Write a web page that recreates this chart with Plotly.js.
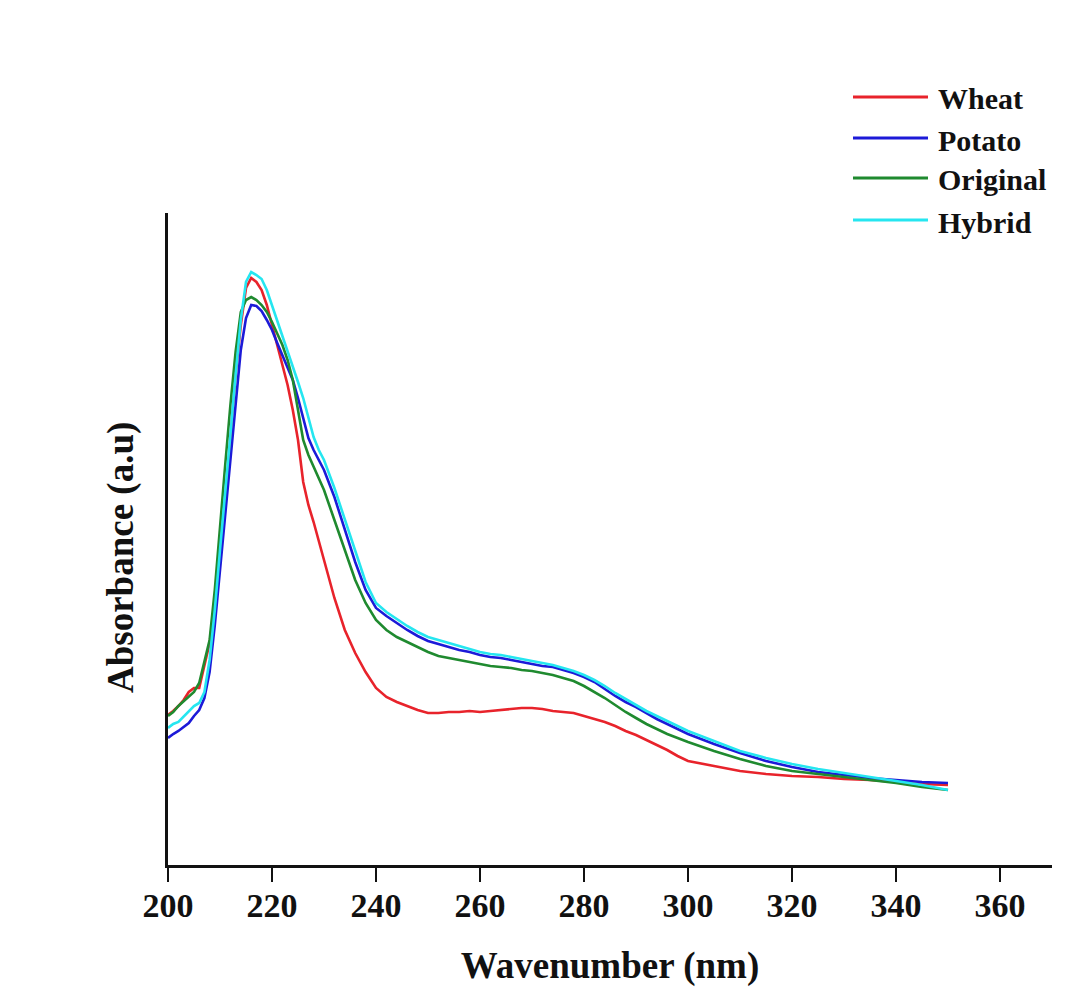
<!DOCTYPE html>
<html>
<head>
<meta charset="utf-8">
<script src="https://cdn.plot.ly/plotly-3.0.1.min.js"></script>
<style>
  html, body { margin: 0; padding: 0; background: #ffffff; }
  #chart { width: 1078px; height: 995px; }
</style>
</head>
<body>
<div id="chart"></div>
<script>
// UV absorbance spectra of four starch samples
const wavelength = [
  200, 201, 202, 203, 204, 205, 206, 207, 208, 209,
  210, 211, 212, 213, 214, 215, 216, 217, 218, 219,
  220, 221, 222, 223, 224, 225, 226, 227, 228, 229,
  230, 232, 234, 236, 238, 240, 242, 244, 246, 248,
  250, 252, 254, 256, 258, 260, 262, 264, 266, 268,
  270, 272, 274, 276, 278, 280, 282, 284, 286, 288,
  290, 292, 294, 296, 298, 300, 305, 310, 315, 320,
  325, 330, 335, 340, 345, 350
];

const wheat = [
  0.375, 0.385, 0.3975, 0.4125, 0.4325, 0.4425, 0.4425, 0.50, 0.555, 0.65,
  0.7875, 0.90, 1.0625, 1.225, 1.35, 1.4425, 1.4675, 1.4575, 1.4375, 1.40,
  1.35, 1.30, 1.25, 1.20, 1.1375, 1.0625, 0.9575, 0.90, 0.8575, 0.8125,
  0.7625, 0.6675, 0.5875, 0.53, 0.4825, 0.4425, 0.42, 0.4075, 0.3975, 0.3875,
  0.38, 0.38, 0.3825, 0.3825, 0.385, 0.3825, 0.385, 0.3875, 0.39, 0.3925,
  0.3925, 0.39, 0.385, 0.3825, 0.38, 0.3725, 0.365, 0.3575, 0.3475, 0.335,
  0.325, 0.3125, 0.30, 0.2875, 0.2725, 0.26, 0.2475, 0.235, 0.2275, 0.2225,
  0.22, 0.215, 0.2125, 0.2075, 0.2025, 0.20
];

const potato = [
  0.3175, 0.3275, 0.335, 0.345, 0.355, 0.3725, 0.3875, 0.4175, 0.4825, 0.60,
  0.7375, 0.875, 1.0125, 1.1625, 1.2875, 1.3675, 1.40, 1.3975, 1.385, 1.3625,
  1.3375, 1.305, 1.275, 1.245, 1.2125, 1.1675, 1.1175, 1.0675, 1.0375, 1.0125,
  0.9875, 0.92, 0.8375, 0.7575, 0.6875, 0.6425, 0.6225, 0.605, 0.5875, 0.5725,
  0.56, 0.5525, 0.545, 0.5375, 0.5325, 0.525, 0.52, 0.5175, 0.5125, 0.5075,
  0.5025, 0.4975, 0.495, 0.4875, 0.48, 0.47, 0.4575, 0.44, 0.4225, 0.4075,
  0.395, 0.38, 0.365, 0.3525, 0.34, 0.3275, 0.3025, 0.28, 0.26, 0.245,
  0.2325, 0.225, 0.2175, 0.2125, 0.2075, 0.205
];

const original = [
  0.3725, 0.3825, 0.3975, 0.41, 0.42, 0.4325, 0.455, 0.5075, 0.5625, 0.6875,
  0.85, 1.00, 1.15, 1.2825, 1.3825, 1.4125, 1.42, 1.4125, 1.40, 1.3825,
  1.3575, 1.33, 1.30, 1.2625, 1.2125, 1.1375, 1.0625, 1.025, 0.995, 0.9675,
  0.9375, 0.8625, 0.7875, 0.7125, 0.655, 0.6125, 0.5875, 0.57, 0.5575, 0.545,
  0.5325, 0.5225, 0.5175, 0.5125, 0.5075, 0.5025, 0.4975, 0.495, 0.4925, 0.4875,
  0.485, 0.48, 0.475, 0.4675, 0.46, 0.4475, 0.4325, 0.4175, 0.40, 0.3825,
  0.3675, 0.3525, 0.34, 0.3275, 0.3175, 0.3075, 0.285, 0.265, 0.2475, 0.235,
  0.2275, 0.22, 0.2125, 0.205, 0.195, 0.1875
];

const hybrid = [
  0.3425, 0.3525, 0.3575, 0.37, 0.3825, 0.3975, 0.405, 0.4325, 0.5125, 0.6375,
  0.7875, 0.925, 1.075, 1.225, 1.3625, 1.4575, 1.4825, 1.475, 1.465, 1.4375,
  1.40, 1.3625, 1.3225, 1.2875, 1.25, 1.2075, 1.1675, 1.1175, 1.07, 1.0375,
  1.0125, 0.9425, 0.8625, 0.7825, 0.7075, 0.655, 0.6325, 0.615, 0.5975, 0.5825,
  0.57, 0.5625, 0.555, 0.5475, 0.54, 0.5325, 0.5275, 0.525, 0.52, 0.515,
  0.51, 0.505, 0.50, 0.4925, 0.485, 0.475, 0.4625, 0.4475, 0.43, 0.415,
  0.40, 0.385, 0.3725, 0.36, 0.3475, 0.335, 0.31, 0.285, 0.2675, 0.2525,
  0.24, 0.23, 0.22, 0.21, 0.20, 0.1875
];

const seriesNames = ["Wheat", "Potato", "Original", "Hybrid"];
const seriesValues = [wheat, potato, original, hybrid];
const seriesColors = ["#e8232b", "#1c1ad8", "#1f8a2f", "#25e6f0"];

const xTicks = [200, 220, 240, 260, 280, 300, 320, 340, 360];

const W = 1078, H = 995;
const M = { l: 168, r: 26, t: 213, b: 130 };
const plotW = W - M.l - M.r;
const plotH = H - M.t - M.b;
// pixel -> paper coordinate helpers for the hand-placed legend
const px = x => (x - M.l) / plotW;
const py = y => (H - M.b - y) / plotH;

const fontFamily = '"Liberation Serif", "Times New Roman", serif';

const traces = seriesNames.map((name, i) => ({
  type: "scatter",
  mode: "lines",
  name: name,
  x: wavelength,
  y: seriesValues[i],
  line: { color: seriesColors[i], width: 2.6 },
  showlegend: false,
  hoverinfo: "x+y+name"
}));

const legendRows = [97, 138, 178, 220];
const shapes = seriesNames.map((name, i) => ({
  type: "line",
  xref: "paper", yref: "paper",
  x0: px(853), x1: px(928),
  y0: py(legendRows[i]), y1: py(legendRows[i]),
  line: { color: seriesColors[i], width: 3 }
}));

const annotations = seriesNames.map((name, i) => ({
  xref: "paper", yref: "paper",
  x: px(936), y: py(legendRows[i] + 2),
  xanchor: "left", yanchor: "middle",
  text: "<b>" + name + "</b>",
  showarrow: false,
  font: { family: fontFamily, size: 30, color: "#111111" }
}));

annotations.push({
  xref: "paper", yref: "paper",
  x: px(121), y: py(558),
  xanchor: "center", yanchor: "middle",
  textangle: -90,
  text: "<b>Absorbance (a.u)</b>",
  showarrow: false,
  font: { family: fontFamily, size: 37, color: "#111111" }
});

const layout = {
  width: W, height: H,
  margin: M,
  paper_bgcolor: "#ffffff",
  plot_bgcolor: "#ffffff",
  showlegend: false,
  font: { family: fontFamily, color: "#111111" },
  xaxis: {
    range: [200, 370],
    tickvals: xTicks,
    ticktext: xTicks.map(v => "<b>" + v + "</b>"),
    ticks: "outside",
    ticklen: 14,
    tickwidth: 2.5,
    tickcolor: "#111111",
    ticklabelstandoff: -6,
    tickfont: { family: fontFamily, size: 34, color: "#111111" },
    showline: true,
    linecolor: "#111111",
    linewidth: 3,
    showgrid: false,
    zeroline: false,
    title: {
      text: "<b>Wavenumber (nm)</b>",
      font: { family: fontFamily, size: 37, color: "#111111" },
      standoff: 30
    }
  },
  yaxis: {
    range: [0, 1.63],
    showticklabels: false,
    ticks: "",
    showline: true,
    linecolor: "#111111",
    linewidth: 3,
    showgrid: false,
    zeroline: false
  },
  shapes: shapes,
  annotations: annotations
};

Plotly.newPlot("chart", traces, layout, { staticPlot: true, displayModeBar: false });
</script>
</body>
</html>
